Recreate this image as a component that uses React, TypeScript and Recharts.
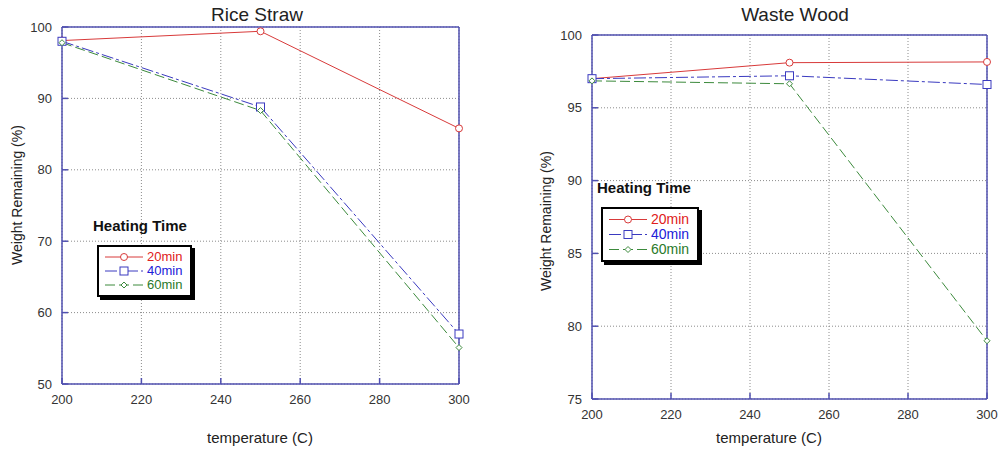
import React from 'react';
import { LineChart, Line, XAxis, YAxis, CartesianGrid, Legend } from 'recharts';

const temperatures = [200, 250, 300];
const xTicks = [200, 220, 240, 260, 280, 300];

const riceStraw20 = [98.1, 99.4, 85.8];
const riceStraw40 = [98.0, 88.8, 57.0];
const riceStraw60 = [97.8, 88.3, 55.1];
const riceTicks = [50, 60, 70, 80, 90, 100];

const wood20 = [97.0, 98.1, 98.15];
const wood40 = [97.0, 97.2, 96.6];
const wood60 = [96.85, 96.65, 79.0];
const woodTicks = [75, 80, 85, 90, 95, 100];

const seriesNames = ['20min', '40min', '60min'];

const FRAME = '#5050b0';
const FONT = "'Liberation Sans', Arial, sans-serif";

const seriesStyle: Record<string, { stroke: string; text: string; dash?: string; marker: string }> = {
  '20min': { stroke: '#d83a3a', text: '#e02020', marker: 'circle' },
  '40min': { stroke: '#3a3ac0', text: '#2020d8', dash: '12 3 3 3', marker: 'square' },
  '60min': { stroke: '#3c8a3c', text: '#2a7a2a', dash: '10 4', marker: 'diamond' },
};

function Marker({ kind, cx, cy, color }: { kind: string; cx: number; cy: number; color: string }) {
  if (kind === 'circle') return <circle cx={cx} cy={cy} r={3.5} fill="#fff" stroke={color} />;
  if (kind === 'square') return <rect x={cx - 4} y={cy - 4} width={8} height={8} fill="#fff" stroke={color} />;
  return <polygon points={`${cx},${cy - 3} ${cx + 3},${cy} ${cx},${cy + 3} ${cx - 3},${cy}`} fill="#fff" stroke={color} />;
}

function buildRows(a: number[], b: number[], c: number[]) {
  return temperatures.map((t, i) => ({ t, '20min': a[i], '40min': b[i], '60min': c[i] }));
}

function legendContent(fontSize: number, rowH: number) {
  return () => (
    <div style={{ fontFamily: FONT }}>
      <div style={{ fontWeight: 'bold', fontSize: 15, color: '#111', lineHeight: '16px', marginBottom: 11 }}>Heating Time</div>
      <div
        style={{
          border: '2px solid #000',
          boxShadow: '3px 3px 0 #000',
          background: '#fff',
          marginLeft: 4,
          padding: '3px 8px 3px 6px',
          width: 'fit-content',
        }}
      >
        {seriesNames.map((name) => {
          const s = seriesStyle[name];
          return (
            <div key={name} style={{ display: 'flex', alignItems: 'center', height: rowH }}>
              <svg width={40} height={rowH}>
                <line x1={0} x2={38} y1={rowH / 2} y2={rowH / 2} stroke={s.stroke} strokeDasharray={s.dash} />
                <Marker kind={s.marker} cx={19} cy={rowH / 2} color={s.stroke} />
              </svg>
              <span style={{ color: s.text, fontSize, marginLeft: 2, lineHeight: `${rowH}px` }}>{name}</span>
            </div>
          );
        })}
      </div>
    </div>
  );
}

function Panel({ data, yDomain, yTicks, width, height, margin, legendLeft, legendTop, legendFont, rowH }: any) {
  const axisCommon = {
    axisLine: { stroke: FRAME, strokeWidth: 1.5 },
    tickLine: { stroke: FRAME, strokeWidth: 1.5 },
    tickSize: -6,
  };
  return (
    <LineChart width={width} height={height} data={data} margin={margin}>
      <CartesianGrid stroke="#8c8c8c" strokeDasharray="1 2" />
      <XAxis
        dataKey="t"
        type="number"
        domain={[200, 300]}
        ticks={xTicks}
        height={30}
        tickMargin={17}
        tick={{ fill: '#333', fontSize: 13, fontFamily: FONT }}
        {...axisCommon}
      />
      <XAxis
        xAxisId="top"
        orientation="top"
        type="number"
        domain={[200, 300]}
        ticks={xTicks}
        height={1}
        tickFormatter={() => ''}
        {...axisCommon}
      />
      <YAxis
        type="number"
        domain={yDomain}
        ticks={yTicks}
        width={40}
        tickMargin={16}
        tick={{ fill: '#333', fontSize: 13, fontFamily: FONT }}
        {...axisCommon}
      />
      <YAxis
        yAxisId="right"
        orientation="right"
        type="number"
        domain={yDomain}
        ticks={yTicks}
        width={1}
        tickFormatter={() => ''}
        {...axisCommon}
      />
      <Legend
        layout="vertical"
        align="center"
        verticalAlign="middle"
        content={legendContent(legendFont, rowH)}
        wrapperStyle={{ left: legendLeft, top: legendTop }}
      />
      {seriesNames.map((name) => {
        const s = seriesStyle[name];
        return (
          <Line
            key={name}
            dataKey={name}
            type="linear"
            stroke={s.stroke}
            strokeWidth={1}
            strokeDasharray={s.dash}
            isAnimationActive={false}
            dot={(p: any) => <Marker key={p.index} kind={s.marker} cx={p.cx} cy={p.cy} color={s.stroke} />}
          />
        );
      })}
    </LineChart>
  );
}

const textBase: React.CSSProperties = { position: 'absolute', fontFamily: FONT, color: '#222', whiteSpace: 'nowrap' };

function Caption({ x, y, text, size, rotate }: { x: number; y: number; text: string; size: number; rotate?: boolean }) {
  return (
    <div
      style={{
        ...textBase,
        left: x,
        top: y,
        fontSize: size,
        transform: `translate(-50%, -50%)${rotate ? ' rotate(-90deg)' : ''}`,
      }}
    >
      {text}
    </div>
  );
}

export default function App() {
  return (
    <div style={{ position: 'absolute', left: 0, top: 0, width: 999, height: 451, background: '#fff', overflow: 'hidden' }}>
      <div style={{ position: 'absolute', left: 0, top: 0 }}>
        <Panel
          data={buildRows(riceStraw20, riceStraw40, riceStraw60)}
          yDomain={[50, 100]}
          yTicks={riceTicks}
          width={480}
          height={451}
          margin={{ top: 26, right: 20, bottom: 37, left: 22 }}
          legendLeft={93}
          legendTop={218}
          legendFont={13}
          rowH={14}
        />
      </div>
      <div style={{ position: 'absolute', left: 520, top: 0 }}>
        <Panel
          data={buildRows(wood20, wood40, wood60)}
          yDomain={[75, 100]}
          yTicks={woodTicks}
          width={479}
          height={451}
          margin={{ top: 34, right: 11, bottom: 22, left: 32 }}
          legendLeft={77}
          legendTop={180}
          legendFont={14}
          rowH={15}
        />
      </div>
      <Caption x={257} y={15} text="Rice Straw" size={19} />
      <Caption x={795} y={15} text="Waste Wood" size={19} />
      <Caption x={17} y={195} text="Weight Remaining (%)" size={14} rotate />
      <Caption x={546} y={221} text="Weight Remaining (%)" size={14} rotate />
      <Caption x={260} y={437} text="temperature (C)" size={15} />
      <Caption x={769} y={437} text="temperature (C)" size={15} />
    </div>
  );
}
